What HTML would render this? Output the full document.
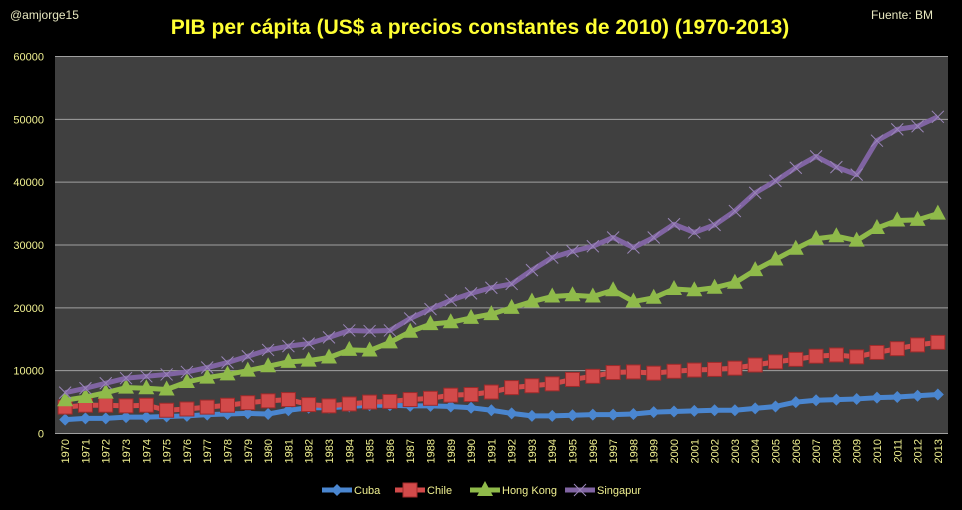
<!DOCTYPE html>
<html><head><meta charset="utf-8"><style>
body{margin:0;background:#000;width:962px;height:510px;overflow:hidden}
svg{display:block;font-family:"Liberation Sans",sans-serif}
</style></head><body>
<svg id="chart" width="962" height="510">
<rect x="0" y="0" width="962" height="510" fill="#000"/>
<text x="10" y="19" fill="#e8e8c0" font-size="12">@amjorge15</text>
<text x="480" y="34" fill="#ffff33" font-size="21" font-weight="bold" text-anchor="middle">PIB per cápita (US$ a precios constantes de 2010) (1970-2013)</text>
<text x="933" y="19" fill="#e8e8c0" font-size="12" text-anchor="end">Fuente: BM</text>
<rect x="55" y="56.5" width="893" height="377" fill="#404040"/>
<g id="grid"></g><g id="series"></g><g id="xlabels"></g><g id="legend"></g>
</svg>
<script>
const years=[];for(let y=1970;y<=2013;y++)years.push(y);
const yTicks=[0,10000,20000,30000,40000,50000,60000];
const cuba=[2200,2400,2400,2600,2600,2700,2800,3000,3100,3200,3100,3700,4100,4100,4300,4500,4500,4400,4400,4300,4100,3700,3200,2800,2800,2900,3000,3000,3100,3400,3500,3600,3700,3700,4000,4300,5000,5300,5400,5500,5700,5800,6000,6200];
const chile=[4200,4500,4500,4400,4500,3700,3900,4200,4500,4900,5200,5400,4600,4400,4700,5000,5100,5400,5600,6100,6200,6600,7300,7600,7900,8600,9100,9700,9800,9600,9900,10100,10200,10400,10900,11400,11800,12300,12500,12200,12900,13500,14100,14500];
const hongKong=[5300,5800,6500,7300,7200,7000,8200,8900,9400,10000,10700,11400,11600,12100,13300,13200,14500,16200,17400,17700,18400,19000,20000,21000,21800,22000,21800,22800,21000,21600,23000,22800,23200,24000,26000,27700,29400,31000,31400,30700,32700,33900,34000,35000];
const singapur=[6500,7200,8000,8800,9100,9400,9800,10500,11300,12300,13300,13900,14300,15300,16400,16300,16400,18300,19800,21200,22300,23200,23800,26000,28000,29000,29800,31200,29600,31200,33300,32000,33200,35400,38300,40200,42300,44100,42400,41200,46600,48400,48900,50400];
const seriesNames=["Cuba","Chile","Hong Kong","Singapur"];
const NS="http://www.w3.org/2000/svg";
const L=55,R=948,T=56.5,B=433.5,YMAX=60000;
const bw=(R-L)/years.length;
function xs(i){return L+(i+0.5)*bw;}
function ys(v){return B-(v/YMAX)*(B-T);}
function mk(tag,attrs,parent){const e=document.createElementNS(NS,tag);for(const k in attrs)e.setAttribute(k,attrs[k]);parent.appendChild(e);return e;}
const grid=document.getElementById('grid');
yTicks.forEach(t=>{
  const ln=mk('line',{x1:L,x2:R,y1:ys(t),y2:ys(t),stroke:'#a0a0a0','stroke-width':1},grid);
  
  
  const tx=mk('text',{x:44,y:ys(t)+4,fill:'#f0f090','font-size':11,'text-anchor':'end'},grid);
  tx.textContent=t;
  
  
});
const xl=document.getElementById('xlabels');
years.forEach((y,i)=>{
  const tx=mk('text',{transform:`translate(${xs(i)+4},439) rotate(-90)`,fill:'#f0f090','font-size':11,'text-anchor':'end'},xl);
  tx.textContent=y;
  
  
});
const cfg=[{d:cuba,c:'#4a86d0',m:'diamond'},{d:chile,c:'#d24a4a',m:'square'},{d:hongKong,c:'#8fba4a',m:'triangle'},{d:singapur,c:'#8064a2',m:'x'}];
function marker(g,type,x,y,c){
  let e;
  if(type==='diamond')e=mk('polygon',{points:`${x},${y-6} ${x+6},${y} ${x},${y+6} ${x-6},${y}`,fill:c},g);
  else if(type==='square')e=mk('rect',{x:x-7,y:y-7,width:14,height:14,fill:c,stroke:'#a02a2a','stroke-width':1},g);
  else if(type==='triangle')e=mk('polygon',{points:`${x},${y-9} ${x+8},${y+6} ${x-8},${y+6}`,fill:c},g);
  else e=mk('path',{d:`M${x-6},${y-6}L${x+6},${y+6}M${x+6},${y-6}L${x-6},${y+6}`,stroke:'#9a86b8','stroke-width':1},g);
  return e;
}
const sg=document.getElementById('series');
cfg.forEach((s,k)=>{
  const g=mk('g',{},sg);
  
  
  const pl=mk('polyline',{points:s.d.map((v,i)=>xs(i)+','+ys(v)).join(' '),fill:'none',stroke:s.c,'stroke-width':5,'stroke-linejoin':'round'},g);
  
  
  s.d.forEach((v,i)=>{
    const m=marker(g,s.m,xs(i),ys(v),s.c);
    
    
  });
});
const lg=document.getElementById('legend');
const lx=[322,395,470,565];
cfg.forEach((s,k)=>{
  const g=mk('g',{},lg);
  
  
  const x=lx[k],y=490;
  mk('line',{x1:x,x2:x+30,y1:y,y2:y,stroke:s.c,'stroke-width':5},g);
  marker(g,s.m,x+15,y,s.c);
  const t=mk('text',{x:x+32,y:y+4,fill:'#f0f090','font-size':11},g);
  t.textContent=seriesNames[k];
});
</script>
</body></html>
